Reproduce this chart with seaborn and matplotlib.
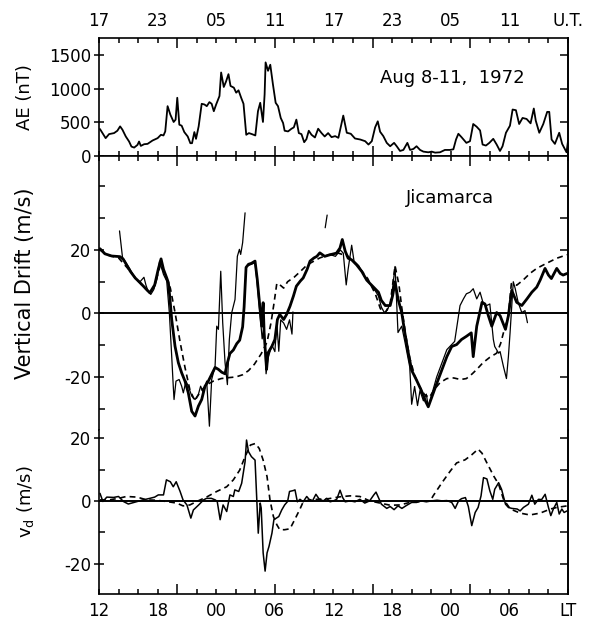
import numpy as np
import pandas as pd
import matplotlib
matplotlib.use("Agg")
import matplotlib.pyplot as plt
from matplotlib.ticker import FixedLocator, FuncFormatter
import seaborn as sns

# ---------------- data (local time in hours from LT 12 of day 1) ----------------
ae_lt = [12.1, 12.68, 13.03, 13.54, 13.88, 14.16, 14.4, 14.74, 15.08, 15.32, 15.6, 15.94,
         16.1, 16.28, 16.62, 16.97, 17.48, 18.0, 18.34, 18.6, 18.78, 19.02, 19.3, 19.64,
         19.84, 20.01, 20.22, 20.46, 20.73, 21.08, 21.35, 21.52, 21.76, 21.93, 22.2, 22.51,
         22.79, 23.03, 23.3, 23.53, 23.75, 23.99, 24.33, 24.5, 24.77, 25.0, 25.25, 25.46,
         25.8, 26.04, 26.28, 26.55, 26.79, 27.07, 27.34, 27.65, 28.0, 28.27, 28.5, 28.78,
         28.95, 29.05, 29.3, 29.53, 29.8, 30.08, 30.32, 30.6, 30.84, 31.0, 31.35, 31.7,
         31.94, 32.2, 32.45, 32.72, 33.0, 33.23, 33.47, 33.75, 34.1, 34.43, 34.78, 35.1,
         35.45, 35.8, 36.17, 36.5, 37.0, 37.36, 37.77, 38.2, 38.73, 39.24, 39.58, 39.92,
         40.26, 40.53, 40.77, 41.1, 41.45, 41.8, 42.2, 42.47, 42.81, 43.15, 43.56, 43.84,
         44.18, 44.5, 44.86, 45.2, 45.7, 46.05, 46.4, 46.9, 47.4, 47.93, 48.27, 48.54,
         48.78, 49.1, 49.6, 49.97, 50.3, 50.65, 51.0, 51.26, 51.6, 51.95, 52.35, 52.7,
         53.04, 53.3, 53.65, 54.06, 54.33, 54.67, 55.0, 55.35, 55.76, 56.17, 56.5, 56.7,
         57.06, 57.47, 57.87, 58.08, 58.32, 58.66, 59.1, 59.4, 59.85, 60.0]
ae_nt = [400, 265, 325, 340, 375, 440, 390, 290, 215, 140, 125, 165,
         215, 150, 175, 180, 230, 265, 315, 305, 365, 740, 615, 505,
         540, 865, 465, 450, 355, 290, 190, 190, 355, 255, 440, 775,
         765, 740, 800, 775, 665, 765, 890, 1240, 1025, 1105, 1215, 1040,
         1015, 940, 975, 865, 775, 315, 340, 325, 305, 665, 790, 505,
         915, 1390, 1265, 1355, 1065, 790, 740, 565, 490, 375, 365, 405,
         425, 540, 340, 325, 205, 250, 375, 315, 275, 405, 340, 290,
         340, 280, 295, 270, 600, 345, 330, 260, 245, 220, 170, 220,
         425, 515, 360, 295, 195, 145, 195, 145, 75, 90, 195, 90,
         105, 145, 90, 65, 55, 65, 50, 55, 90, 90, 100, 245,
         330, 280, 195, 220, 475, 435, 380, 170, 155, 195, 255, 170,
         75, 145, 345, 450, 690, 680, 475, 565, 550, 485, 705, 525,
         345, 475, 655, 655, 245, 180, 345, 180, 55, 220]

# thick solid curve (vertical drift, m/s)
thick_lt = [12.1, 12.6, 13.3, 14.15, 14.5, 14.8, 15.2, 15.7, 16.2, 16.7, 17.2, 17.7,
            18.07, 18.35, 18.6, 18.93, 19.1, 19.27, 19.44, 19.78, 20.12, 20.46, 20.8, 21.14,
            21.49, 21.83, 22.17, 22.51, 22.85, 23.19, 23.53, 23.88, 24.22, 24.56, 24.9, 25.1,
            25.4, 25.75, 26.1, 26.4, 26.7, 26.85, 27.05, 27.3, 27.6, 27.97, 28.2, 28.5,
            28.65, 28.8, 28.9, 29.15, 29.3, 29.7, 30.0, 30.26, 30.5, 30.9, 31.2, 31.55,
            31.9, 32.2, 32.6, 32.9, 33.3, 33.6, 34.0, 34.3, 34.6, 35.1, 35.64, 36.3,
            36.66, 36.9, 37.2, 37.5, 37.86, 38.37, 38.9, 39.4, 40.1, 40.6, 40.9, 41.3,
            41.8, 42.06, 42.3, 42.6, 42.98, 43.3, 43.66, 44.0, 44.5, 45.0, 45.4, 45.7,
            46.05, 46.56, 47.07, 47.6, 48.1, 48.6, 49.1, 49.6, 50.1, 50.3, 50.66, 51.2,
            51.5, 51.85, 52.2, 52.7, 53.05, 53.6, 53.9, 54.24, 54.75, 55.27, 55.8, 56.3,
            56.8, 57.15, 57.65, 58.0, 58.3, 58.85, 59.2, 59.5, 59.9]
thick_v = [20.4, 18.8, 18.1, 17.9, 17.0, 15.4, 13.3, 11.2, 9.7, 8.1, 6.5, 9.0,
           14.0, 17.2, 13.9, 11.2, 9.7, 4.4, -1.9, -10.3, -15.5, -18.7, -21.3, -25.0,
           -30.8, -32.3, -29.2, -27.1, -22.9, -21.3, -19.2, -17.0, -17.6, -18.5, -19.0, -16.0,
           -12.6, -11.5, -9.5, -8.4, -4.2, 2.0, 14.5, 15.5, 15.8, 16.5, 10.7, 0.7,
           -4.0, 3.4, -6.1, -17.6, -12.4, -10.3, -8.2, -1.9, -0.3, -1.9, -0.3, 2.3,
           5.5, 8.6, 10.2, 11.2, 13.9, 16.5, 17.5, 18.0, 19.1, 18.0, 18.5, 19.0,
           20.6, 23.3, 19.6, 17.4, 16.9, 15.3, 13.2, 10.5, 8.3, 6.7, 4.1, 2.5,
           2.5, 5.7, 10.0, 4.6, 0.3, -6.1, -12.5, -17.9, -21.0, -24.3, -27.5, -29.4,
           -26.4, -22.1, -17.9, -13.6, -10.4, -9.8, -8.2, -7.2, -6.1, -13.6, -4.0, 3.5,
           3.0, -0.7, -4.0, 0.3, -0.7, -5.0, -0.7, 7.3, 3.5, 2.5, 4.6, 6.7,
           8.3, 10.5, 14.2, 12.1, 11.0, 14.2, 12.6, 12.1, 12.6]

# thin solid curve (individual observations, NaN = data gap)
thin_lt = [14.1, 14.4, 14.8, 15.2, 15.7, 16.2, 16.6, 16.8, 17.0, 17.3, 17.6, 17.9,
           18.2, 18.6, 18.93, 19.2, 19.44, 19.6, 19.68, 19.88, 20.2, 20.46, 20.63, 20.9,
           21.14, 21.49, 21.83, 22.17, 22.4, 22.68, 23.02, 23.3, 23.53, 23.88, 24.05, 24.22,
           24.46, 24.66, 24.9, 25.14, 25.34, 25.58, 25.92, 26.16, 26.37, 26.5, 26.7, 26.95,
           np.nan,
           27.2, 27.6, 27.97, 28.2, 28.5, 28.7, 28.9, 29.1, 29.3, 29.7, 30.0, 30.2,
           30.4, 30.6, 30.9, 31.2, 31.5, 31.75, 31.85,
           np.nan,
           35.15, 35.35,
           np.nan,
           35.7, 36.2, 36.7, 37.0, 37.3, 37.5, 37.86, 38.1, 38.6, 39.2, 39.8, 40.3,
           40.6, 40.9, 41.2, 41.5, 41.9, 42.3, 42.6, 42.98, 43.3, 43.8, 44.0, 44.3,
           44.6, 44.85, 45.2, 45.5, 45.7, 46.56, 47.6, 48.4, 48.95, 49.3, 49.6, 49.97,
           50.3, 50.66, 51.0, 51.34, 51.68, 52.0, 52.36, 52.5, 52.9, 53.05, 53.4, 53.7,
           53.9, 54.07, 54.4, 54.6, 54.9, 55.27, 55.6, 55.85]
thin_v = [26.0, 17.8, 15.8, 13.8, 11.0, 10.0, 11.4, 9.0, 7.2, 6.0, 7.5, 10.5,
          16.5, 12.3, 10.2, 0.2, -13.4, -22.9, -27.1, -21.3, -20.8, -22.9, -25.0, -21.3,
          -22.9, -26.0, -27.1, -25.5, -22.9, -25.0, -21.3, -35.5, -20.8, -16.6, -4.0, -5.0,
          13.3, -2.9, -15.5, -22.4, -8.2, 0.2, 4.4, 18.0, 20.2, 18.6, 22.3, 31.7,
          np.nan,
          15.0, 15.5, 16.0, 9.0, -1.0, -8.0, -4.0, -19.0, -14.0, -10.0, -12.0, -3.0,
          -11.9, -2.0, -3.0, -5.0, -2.0, -6.5, 0.5,
          np.nan,
          27.0, 31.0,
          np.nan,
          18.5, 18.0, 20.0, 19.0, 9.0, 14.0, 21.5, 16.5, 15.0, 11.5, 9.0, 7.0,
          5.5, 2.0, 0.3, 1.0, 4.0, 14.8, -6.0, -4.0, -8.8, -16.8, -28.6, -23.0,
          -29.0, -24.3, -27.5, -25.4, -29.4, -20.0, -11.4, -8.8, 2.5, 4.6, 6.2, 6.7,
          7.8, 4.6, 6.7, 3.0, 2.5, 3.0, -8.2, -10.4, -12.5, -12.0, -16.8, -20.5,
          -13.6, -6.1, 10.0, 7.8, 3.5, 0.3, 0.9, -2.9]

# dashed curve (model / reference drift)
dash_lt = [12.1, 13.0, 14.0, 15.0, 16.0, 17.0, 17.6, 18.0, 18.3, 18.7, 19.3, 19.8,
           20.3, 20.8, 21.3, 21.8, 22.4, 23.0, 23.7, 24.5, 25.3, 26.0, 26.7, 27.3,
           27.9, 28.6, 29.2, 29.6, 29.9, 30.2, 30.6, 30.9, 31.3, 32.0, 32.7, 33.3,
           34.0, 34.6, 35.5, 36.5, 37.5, 38.5, 39.5, 40.3, 40.8, 41.3, 41.8, 42.3,
           42.7, 43.0, 43.4, 43.8, 44.3, 44.8, 45.3, 45.8, 46.3, 46.9, 47.6, 48.3,
           49.0, 49.6, 50.2, 50.7, 51.3, 52.0, 52.7, 53.1, 53.4, 53.9, 54.2, 54.75,
           55.4, 56.1, 56.8, 57.8, 58.85, 59.9]
dash_v = [20.0, 18.3, 17.5, 14.0, 10.2, 7.0, 8.0, 12.0, 15.5, 12.5, 8.0, 0.0,
          -9.0, -17.0, -24.0, -27.5, -24.5, -22.5, -21.3, -20.5, -20.2, -20.0, -19.3, -18.0,
          -16.0, -12.7, -9.0, -3.0, 3.0, 9.5, 8.8, 8.0, 10.0, 11.5, 13.5, 15.3,
          16.5, 17.5, 18.5, 19.0, 18.0, 15.0, 11.0, 6.0, 1.5, 0.3, 3.0, 15.0,
          9.0, 1.5, -7.0, -14.0, -19.5, -23.0, -25.5, -26.5, -24.0, -21.8, -20.5, -20.3,
          -20.8, -20.5, -19.0, -17.5, -15.5, -13.8, -12.5, -9.5, -6.0, -0.7, 9.4, 8.9,
          10.5, 12.6, 14.2, 15.8, 17.4, 18.5]

# disturbance drift v_d, solid (observed) and dashed (model)
vd_lt = [12.1, 12.4, 12.8, 13.5, 14.0, 14.5, 15.0, 15.35, 15.9, 16.5, 17.2, 17.7,
         18.07, 18.6, 18.9, 19.3, 19.6, 19.9, 20.3, 20.6, 21.0, 21.4, 21.66, 22.2,
         22.7, 23.0, 23.5, 23.9, 24.1, 24.4, 24.7, 25.07, 25.4, 25.75, 25.9, 26.3,
         26.6, 26.95, 27.1, 27.3, 27.6, 27.97, 28.3, 28.5, 28.6, 28.8, 29.0, 29.2,
         29.4, 29.7, 29.9, 30.4, 30.7, 31.0, 31.3, 31.5, 31.9, 32.06, 32.3, 32.57,
         32.9, 33.26, 33.5, 33.85, 34.2, 34.55, 34.96, 35.3, 35.65, 36.0, 36.33, 36.67,
         36.94, 37.2, 37.7, 38.2, 38.7, 39.2, 39.7, 40.1, 40.35, 40.6, 40.9, 41.45,
         41.8, 42.2, 42.6, 43.0, 43.5, 44.0, 44.5, 45.0, 45.5, 46.05, 46.6, 47.1,
         47.6, 48.1, 48.45, 48.8, 49.1, 49.5, 49.8, 50.15, 50.5, 50.8, 51.1, 51.35,
         51.7, 52.0, 52.3, 52.5, 52.9, 53.2, 53.6, 53.9, 54.25, 54.8, 55.1, 55.44,
         55.95, 56.3, 56.6, 56.98, 57.3, 57.66, 58.0, 58.24, 58.5, 58.85, 59.1, 59.37,
         59.6, 59.9]
vd_obs = [2.4, -0.2, 1.2, 1.1, 1.4, -0.2, -1.0, -0.7, -0.2, 0.3, 0.8, 1.2,
          1.9, 1.9, 6.7, 6.1, 4.5, 6.1, 3.0, 0.3, -1.3, -5.5, -2.9, -1.3,
          0.3, 0.8, 0.8, 0.3, -0.2, -6.0, -1.3, -3.4, 1.9, 1.4, 3.5, 3.0,
          5.6, 12.5, 19.4, 15.7, 14.1, 13.0, -10.3, -0.7, -2.3, -16.6, -22.4, -16.6,
          -14.5, -10.3, -6.0, -5.0, -2.9, -1.3, -0.2, 3.0, 3.3, 3.5, -0.3, 0.5,
          -0.3, 1.4, 0.5, 0.0, 2.1, 0.5, 0.0, 0.8, -0.3, 0.0, 0.5, 3.4,
          1.05, -0.3, 0.0, -0.3, 0.5, -0.7, 0.0, 1.8, 2.8, 1.05, -1.05, -2.4,
          -1.8, -2.8, -1.6, -2.4, -1.4, -0.5, -0.5, 0.0, -0.3, 0.0, 0.2, 0.0,
          0.1, -0.5, -2.4, 0.0, 0.7, 1.05, -1.8, -7.9, -3.7, -2.1, 1.6, 7.4,
          7.0, 3.2, 0.5, 3.7, 5.8, 3.7, -1.05, -2.1, -2.4, -2.6, -3.2, -2.1,
          -1.05, 1.8, -1.05, 0.5, 0.4, 2.1, -2.1, -4.7, -2.6, -0.5, -4.2, -2.6,
          -3.7, -3.2]

vdm_lt = [12.1, 13.0, 14.0, 14.8, 15.9, 16.9, 17.9, 18.9, 19.95, 20.6, 21.3, 22.0,
          23.0, 24.05, 25.07, 25.75, 26.4, 26.95, 27.5, 28.0, 28.4, 28.8, 29.2, 29.5,
          29.85, 30.2, 30.5, 31.0, 31.55, 32.06, 32.57, 32.9, 33.5, 34.3, 35.5, 36.67,
          37.7, 38.7, 39.7, 40.76, 41.8, 42.8, 43.8, 44.8, 45.9, 46.2, 47.1, 47.95,
          48.6, 49.47, 50.15, 50.8, 51.2, 51.7, 52.4, 52.9, 53.4, 54.1, 55.1, 56.1,
          57.15, 58.2, 58.85, 59.9]
vd_model = [0.3, 0.3, 0.8, 1.4, 1.2, 0.3, 0.2, -0.2, -0.7, -1.6, -1.3, -0.2,
            1.2, 3.0, 4.5, 6.7, 9.8, 14.1, 17.8, 18.3, 16.7, 13.0, 7.7, 0.3,
            -5.0, -7.6, -9.2, -9.2, -8.9, -5.8, -2.6, -0.3, 0.3, 0.5, 0.7, 1.3,
            1.6, 1.4, 0.0, -0.7, -1.4, -1.3, -0.5, -0.2, 0.0, 1.6, 5.8, 9.5,
            12.1, 13.1, 14.7, 16.5, 15.2, 12.1, 7.9, 5.3, 0.5, -2.6, -3.9, -4.5,
            -3.9, -2.6, -2.1, -1.6]

ae_ticks = [0, 500, 1000, 1500]
drift_ticks = [-20, 0, 20]
drift_minor = [-30, -10, 10, 30, 40]
vd_ticks = [-20, 0, 20]
vd_minor = [-10, 10]

# ---------------- style ----------------
sns.set_style("ticks")
plt.rcParams['font.family'] = ['DejaVu Sans']
plt.rcParams.update({
    'axes.linewidth': 1.2,
    'axes.edgecolor': 'black',
    'text.color': 'black',
    'xtick.color': 'black',
    'ytick.color': 'black',
    'axes.labelcolor': 'black',
})

W, H = 595, 619
fig = plt.figure(figsize=(W / 100, H / 100), dpi=100)


def rect(x0, y0, x1, y1):
    return [x0 / W, 1 - y1 / H, (x1 - x0) / W, (y1 - y0) / H]


ax_ae = fig.add_axes(rect(99, 38, 568, 156))
ax_vz = fig.add_axes(rect(99, 156, 568, 430))
ax_vd = fig.add_axes(rect(99, 430, 568, 594))

# ---------------- plotting ----------------
df_ae = pd.DataFrame({"lt": ae_lt, "ae": ae_nt})
sns.lineplot(data=df_ae, x="lt", y="ae", ax=ax_ae, color="k", lw=1.3,
             estimator=None, sort=False)

df_thin = pd.DataFrame({"lt": thin_lt, "v": thin_v})
df_thin["seg"] = df_thin["lt"].isna().cumsum()
df_thin = df_thin.dropna()
sns.lineplot(data=df_thin, x="lt", y="v", units="seg", ax=ax_vz, color="k", lw=0.9,
             estimator=None, sort=False)
df_thick = pd.DataFrame({"lt": thick_lt, "v": thick_v})
sns.lineplot(data=df_thick, x="lt", y="v", ax=ax_vz, color="k", lw=2.0,
             estimator=None, sort=False)
df_dash = pd.DataFrame({"lt": dash_lt, "v": dash_v})
sns.lineplot(data=df_dash, x="lt", y="v", ax=ax_vz, color="k", lw=1.2,
             linestyle=(0, (3.5, 2.5)), estimator=None, sort=False)
ax_vz.axhline(0, color="k", lw=1.4)

df_vd = pd.DataFrame({"lt": vd_lt, "v": vd_obs})
sns.lineplot(data=df_vd, x="lt", y="v", ax=ax_vd, color="k", lw=1.1,
             estimator=None, sort=False)
df_vdm = pd.DataFrame({"lt": vdm_lt, "v": vd_model})
sns.lineplot(data=df_vdm, x="lt", y="v", ax=ax_vd, color="k", lw=1.2,
             linestyle=(0, (3.5, 2.5)), estimator=None, sort=False)
ax_vd.axhline(0, color="k", lw=1.4)

# ---------------- axes ----------------
ax_ae.set_ylim(0, 1752)
ax_vz.set_ylim(-36.7, 49.6)
ax_vd.set_ylim(-29.7, 22.6)

ax_vz.spines["bottom"].set_visible(False)
ax_vd.spines["top"].set_visible(False)


def ut_fmt(x, pos):
    if abs(x - 60) < 1e-6:
        return "U.T."
    if abs(x % 6) < 1e-6:
        return f"{int(round(x + 5)) % 24:02d}"
    return ""


def lt_fmt(x, pos):
    if abs(x - 60) < 1e-6:
        return "LT"
    if abs(x % 6) < 1e-6:
        return f"{int(round(x)) % 24:02d}"
    return ""


for ax in (ax_ae, ax_vz, ax_vd):
    ax.set_xlim(12, 60)
    ax.set_xlabel("")
    ax.set_ylabel("")
    ax.xaxis.set_major_locator(FixedLocator([20, 30, 40, 50]))
    ax.xaxis.set_minor_locator(FixedLocator(list(range(12, 61, 2))))
    ax.tick_params(axis="x", which="major", direction="in", length=7.5, width=1.1)
    ax.tick_params(axis="x", which="minor", direction="in", length=3.8, width=1.1)
    ax.tick_params(axis="y", which="major", direction="inout", length=6.5, width=1.1,
                   labelsize=12, pad=2.5, left=True, right=False)
    ax.tick_params(axis="y", which="minor", direction="in", length=4.5, width=1.1,
                   left=True, right=False)

# top panel: UT labels on top, ticks on top and bottom
ax_ae.xaxis.set_major_formatter(FuncFormatter(ut_fmt))
ax_ae.xaxis.set_minor_formatter(FuncFormatter(ut_fmt))
ax_ae.tick_params(axis="x", which="both", top=True, bottom=True, labeltop=True,
                  labelbottom=False, labelsize=12, pad=6)
ax_ae.set_yticks(ae_ticks)
ax_ae.set_yticklabels([str(t) for t in ae_ticks])

# middle panel
ax_vz.tick_params(axis="x", which="both", top=True, bottom=False, labeltop=False,
                  labelbottom=False)
ax_vz.set_yticks(drift_ticks)
ax_vz.set_yticks(drift_minor, minor=True)
ax_vz.set_yticklabels([str(t) for t in drift_ticks])

# bottom panel: LT labels
ax_vd.xaxis.set_major_formatter(FuncFormatter(lt_fmt))
ax_vd.xaxis.set_minor_formatter(FuncFormatter(lt_fmt))
ax_vd.tick_params(axis="x", which="both", top=False, bottom=True, labelbottom=True,
                  labelsize=12, pad=5.5)
ax_vd.set_yticks(vd_ticks)
ax_vd.set_yticks(vd_minor, minor=True)
ax_vd.set_yticklabels([str(t) for t in vd_ticks])

# right-hand inward ticks
for ax, rt in ((ax_ae, [500, 1000, 1500]),
               (ax_vz, [40, 30, 20, 10, -10, -20, -30]),
               (ax_vd, [20, 10, -10, -20])):
    sec = ax.secondary_yaxis("right")
    sec.set_yticks(rt)
    sec.tick_params(axis="y", direction="in", length=5.5, width=1.1, labelright=False,
                    color="black")
    sec.spines["right"].set_linewidth(1.2)
    sec.spines["right"].set_color("black")

# ---------------- texts ----------------
fig.text(25 / W, 1 - 97 / H, "AE (nT)", rotation=90, ha="center", va="center", fontsize=13)
fig.text(25 / W, 1 - 283 / H, "Vertical Drift (m/s)", rotation=90, ha="center",
         va="center", fontsize=15)
fig.text(26 / W, 1 - 502 / H, r"v$_\mathregular{d}$ (m/s)", rotation=90, ha="center",
         va="center", fontsize=13)
fig.text(452 / W, 1 - 78 / H, "Aug 8-11,  1972", ha="center", va="center", fontsize=13)
fig.text(450 / W, 1 - 198 / H, "Jicamarca", ha="center", va="center", fontsize=13)

fig.savefig("out.png", dpi=100)
